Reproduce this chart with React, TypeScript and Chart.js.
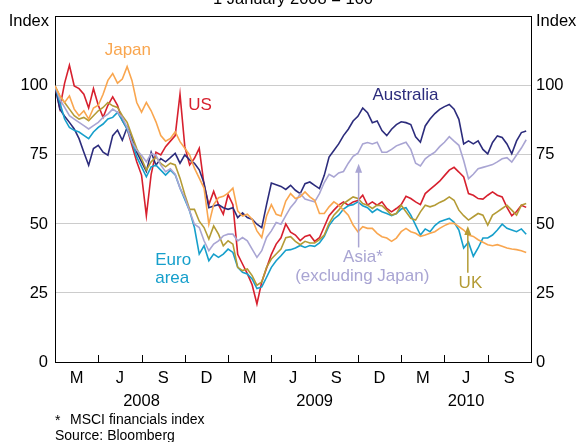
import React, { useEffect, useRef } from 'react';
import { Chart, registerables } from 'chart.js';

Chart.register(...registerables);

// Sample positions: months since 1 January 2008, one sample roughly every 10 days
const SAMPLE_COUNT = 99;
const months: number[] = Array.from({ length: SAMPLE_COUNT }, (_, i) => i / 3);

// Axis ticks
const quarterTicks = [1.5, 4.5, 7.5, 10.5, 13.5, 16.5, 19.5, 22.5, 25.5, 28.5, 31.5];
const quarterLabels = ['M', 'J', 'S', 'D', 'M', 'J', 'S', 'D', 'M', 'J', 'S'];
const quarterBoundaries = [3, 6, 9, 12, 15, 18, 21, 24, 27, 30];
const yearTicks = [6, 18, 28.5];
const yearLabels = ['2008', '2009', '2010'];
const yTickValues = [0, 25, 50, 75, 100, 125];

// Series (index, 1 January 2008 = 100)
const japan = [
  100, 96.4, 94, 96.4, 91.6, 89.2, 91, 88, 92, 93,
  97, 102, 104.5, 101, 102.5, 107, 102, 94, 90.5, 94,
  91, 87, 82, 80, 81, 83.4, 79.8, 77.4, 75, 70.2,
  66.6, 63, 49.9, 57, 59.5, 60, 61.2, 63, 54.7, 52.9,
  53.5, 51.7, 47.5, 45.1, 52.9, 57, 53.5, 52.9, 58.3, 61,
  59.2, 59.8, 61.6, 59.8, 58.6, 53.8, 53.8, 56.2, 58, 56.8,
  55, 53.2, 49.6, 47.2, 49, 48.4, 48.4, 46.6, 45.4, 44.9,
  43.7, 44.9, 47.2, 48.4, 47.2, 46.6, 45.5, 46, 46.6, 47.2,
  48.4, 49.4, 50.2, 50.2, 49, 47.8, 46, 45.5, 44.3, 43.4,
  42.5, 42.1, 42.5, 41.9, 41.3, 40.9, 40.7, 40.3, 39.7,
];

const asia = [
  100, 95.2, 92.2, 89.2, 88, 86.8, 85.6, 84.4, 85.6, 86.8,
  88.6, 89.8, 91.6, 90.4, 88.6, 85, 79.7, 76.7, 74.9, 72.5,
  75.5, 74.9, 71.3, 68.9, 70, 68, 63, 59.5, 54.7, 49.9,
  48.7, 43.9, 40.3, 42.7, 43.9, 45.7, 46.3, 46.3, 43.9, 45.1,
  43.9, 40.9, 37.9, 40.3, 45.1, 47.5, 50.5, 49.9, 53, 56,
  58, 61, 59, 58.5, 58, 61, 65, 68, 67, 68.5,
  69, 72, 74.5, 75.6, 79, 79.5, 79, 79.6, 76, 76,
  77, 78.3, 79, 79.6, 77, 72, 71, 73.6, 74.9, 76,
  78, 79.6, 81.6, 80, 78.5, 73, 66.4, 68, 70, 70.5,
  71, 71.5, 72.5, 73.6, 74, 72.4, 75, 77.5, 80.5,
];

const uk = [
  100, 96.4, 94, 91.6, 89.2, 88, 88.6, 87.4, 89.2, 91,
  92.2, 94, 92.8, 92.2, 89.2, 86.8, 82, 77.3, 73.7, 69.5,
  72.5, 74.3, 71.9, 70.7, 72, 71.4, 66.6, 60.6, 55.3, 55.3,
  51, 48.7, 44.5, 49.3, 46.3, 42.1, 43.9, 42.7, 34.3, 33.1,
  33.7, 31.3, 27.8, 29, 34.3, 37.3, 39.1, 40.9, 45, 45.4,
  43.7, 42.5, 43.7, 43.1, 43.1, 44.3, 46, 50.2, 53.2, 55,
  57.4, 58.6, 59.8, 59.2, 57.4, 56.8, 55.6, 56.8, 56.6, 55,
  53.2, 53.8, 56.8, 54.4, 52, 51.4, 54.4, 56.8, 56.2, 56.8,
  57.8, 58.6, 59.8, 58.6, 55, 53, 51.4, 52.6, 53.8, 53.2,
  49.6, 53.2, 54.4, 55.6, 56.8, 55, 53.2, 56.8, 57.4,
];

const euroArea = [
  100, 94, 88, 85, 83.9, 83.3, 82.1, 80.9, 83.3, 85,
  86.2, 88, 88.6, 90.4, 87.4, 84.4, 79.7, 74.3, 70.7, 67.1,
  70.7, 71.3, 69.5, 67.7, 69.5, 67.8, 63, 58.9, 54.7, 48.7,
  39.1, 42.1, 36.7, 39.1, 37.9, 39.1, 40.9, 39.7, 34.3, 32.5,
  31.9, 30.1, 26.6, 27.2, 30.7, 34.3, 36.7, 38.5, 40.5, 40.7,
  41.3, 42.2, 41.5, 42.2, 41.9, 43.1, 45.5, 49.4, 51.8, 53.2,
  55.4, 56.6, 57, 58, 56.6, 55.9, 54.2, 55.4, 54.4, 53.8,
  53, 53.8, 55.4, 55.9, 53.2, 49.6, 46, 48.2, 47.2, 49.4,
  50.8, 51.4, 52, 50.6, 47.8, 41.3, 43.4, 38.3, 41.3, 44.9,
  44.9, 46, 47.8, 49.9, 48.4, 47.8, 47.2, 48.2, 46.3,
];

const australia = [
  100, 91.6, 89, 86.8, 84.4, 80.9, 76, 71.3, 77.3, 78.5,
  76, 74.9, 82, 84, 80.3, 85, 80.9, 76, 72.5, 69,
  76, 71.3, 73.7, 72.5, 74, 75.6, 72, 75, 73.2, 72,
  69.6, 64.8, 55.9, 56.5, 57, 55.9, 55.3, 55.9, 52.3, 54,
  52.3, 51.7, 49.9, 48.7, 57, 64.8, 64.2, 63.6, 62.5, 64,
  62.2, 61, 64.6, 65.2, 64, 62.8, 67.6, 74.2, 76.6, 79,
  82, 84.3, 87.3, 89, 92, 90.3, 86.7, 87.3, 83.8, 82,
  84.3, 86, 87, 86.7, 86, 81.6, 79.6, 85.5, 88, 90,
  91.5, 92.5, 93.3, 91.6, 87.9, 79, 80.1, 79, 80.1, 77,
  75.4, 79.5, 81.9, 81.3, 79, 75.4, 80.1, 83.1, 83.7,
];

const us = [
  100, 92, 101, 107.5, 100, 99, 97, 92, 99, 93,
  88.6, 93, 96, 93, 87.5, 84.5, 78.5, 72.5, 67.7, 53,
  68, 76, 75, 78, 80, 82, 97, 78, 71.4, 73.8,
  77.4, 64.2, 57, 61.8, 57, 53.5, 60.6, 57, 39, 35.5,
  32, 28, 21, 29, 34, 39, 42.7, 45, 50, 47,
  46, 44, 45.5, 46, 43.7, 45, 49, 53, 55, 56.8,
  58, 56.8, 58, 58.5, 60.4, 56.8, 58, 56.8, 58, 55.6,
  54.4, 55.6, 57, 60, 59.2, 58, 57, 61, 62.5, 64,
  65.5, 67.5, 69.5, 70.5, 68.8, 67, 61, 60.4, 59.2, 59,
  60.4, 61.6, 60.4, 59.8, 56, 53, 54.5, 56.8, 56,
];

const seriesNames = ['Japan', 'Asia', 'UK', 'Euro area', 'Australia', 'US'];
const seriesValues = [japan, asia, uk, euroArea, australia, us];
const seriesColors = ['#f9a64f', '#a9a5d3', '#b49b35', '#169fcb', '#2c2c7c', '#d7202e'];

// Annotations (data coordinates: months, index)
const textLabels = [
  { text: 'Japan', x: 5.05, y: 112.8, color: '#f9a64f', align: 'center' },
  { text: 'US', x: 10.05, y: 92.8, color: '#d7202e', align: 'center' },
  { text: 'Australia', x: 24.3, y: 96.5, color: '#2c2c7c', align: 'center' },
  { text: 'Euro', x: 6.95, y: 36.8, color: '#169fcb', align: 'left' },
  { text: 'area', x: 6.95, y: 30.2, color: '#169fcb', align: 'left' },
  { text: 'Asia*', x: 21.35, y: 37.8, color: '#a9a5d3', align: 'center' },
  { text: '(excluding Japan)', x: 21.3, y: 31.2, color: '#a9a5d3', align: 'center' },
  { text: 'UK', x: 28.8, y: 28.5, color: '#b49b35', align: 'center' },
];
const arrows = [
  { x: 21.05, yFrom: 41.5, yTo: 71.8, color: '#a9a5d3' },
  { x: 28.62, yFrom: 32.3, yTo: 49.3, color: '#b49b35' },
];

const FONT = "'Liberation Sans', Arial, Helvetica, sans-serif";

const overlayPlugin = {
  id: 'overlay',
  afterDatasetsDraw(chart: any) {
    const { ctx, chartArea, scales } = chart;
    const xs = scales.x;
    const ys = scales.y;
    ctx.save();
    // quarter tick marks on the bottom axis
    ctx.strokeStyle = '#000';
    ctx.lineWidth = 1;
    quarterBoundaries.forEach((m) => {
      const px = Math.round(xs.getPixelForValue(m)) + 0.5;
      ctx.beginPath();
      ctx.moveTo(px, chartArea.bottom);
      ctx.lineTo(px, chartArea.bottom - 7);
      ctx.stroke();
    });
    // arrows
    arrows.forEach((a) => {
      const px = xs.getPixelForValue(a.x);
      const y0 = ys.getPixelForValue(a.yFrom);
      const y1 = ys.getPixelForValue(a.yTo);
      ctx.strokeStyle = a.color;
      ctx.fillStyle = a.color;
      ctx.lineWidth = 1.5;
      ctx.beginPath();
      ctx.moveTo(px, y0);
      ctx.lineTo(px, y1 + 6);
      ctx.stroke();
      ctx.beginPath();
      ctx.moveTo(px, y1);
      ctx.lineTo(px - 3.5, y1 + 9);
      ctx.lineTo(px + 3.5, y1 + 9);
      ctx.closePath();
      ctx.fill();
    });
    // series labels
    ctx.font = `17px ${FONT}`;
    ctx.textBaseline = 'middle';
    textLabels.forEach((t) => {
      ctx.fillStyle = t.color;
      ctx.textAlign = t.align as CanvasTextAlign;
      ctx.fillText(t.text, xs.getPixelForValue(t.x), ys.getPixelForValue(t.y));
    });
    ctx.restore();
  },
  afterDraw(chart: any) {
    const { ctx, chartArea } = chart;
    ctx.save();
    ctx.fillStyle = '#000';
    // title (cut off at the top, as in the original)
    ctx.font = `16.5px ${FONT}`;
    ctx.textAlign = 'center';
    ctx.textBaseline = 'alphabetic';
    ctx.fillText('1 January 2008 = 100', (chartArea.left + chartArea.right) / 2, 3.5);
    // axis unit labels
    ctx.textBaseline = 'middle';
    ctx.textAlign = 'right';
    ctx.fillText('Index', chartArea.left - 6, 21);
    ctx.textAlign = 'left';
    ctx.fillText('Index', chartArea.right + 5, 21);
    // footnotes
    ctx.font = `14px ${FONT}`;
    ctx.textAlign = 'left';
    ctx.fillText('*', chartArea.left, 421);
    ctx.fillText('MSCI financials index', chartArea.left + 15, 420);
    ctx.fillText('Source: Bloomberg', chartArea.left, 436);
    ctx.restore();
  },
};

export default function App() {
  const canvasRef = useRef<HTMLCanvasElement | null>(null);

  useEffect(() => {
    document.body.style.margin = '0';
    const canvas = canvasRef.current;
    if (!canvas) return;
    const tickFont = { family: FONT, size: 16.5 };
    const chart = new Chart(canvas, {
      type: 'line',
      data: {
        datasets: seriesNames.map((name, si) => ({
          label: name,
          data: seriesValues[si].map((v, i) => ({ x: months[i], y: v })),
          borderColor: seriesColors[si],
          backgroundColor: seriesColors[si],
          borderWidth: 1.6,
          pointRadius: 0,
          fill: false,
          tension: 0,
        })),
      },
      options: {
        responsive: false,
        animation: false,
        devicePixelRatio: 1,
        layout: { padding: { top: 13, left: 0, right: 0, bottom: 0 } },
        plugins: {
          legend: { display: false },
          tooltip: { enabled: false },
          title: { display: false },
        },
        scales: {
          x: {
            type: 'linear',
            position: 'bottom',
            min: 0,
            max: 33,
            grid: { display: false, drawTicks: false },
            border: { display: true, color: '#000', width: 1 },
            ticks: {
              autoSkip: false,
              maxRotation: 0,
              padding: 7,
              color: '#000',
              font: tickFont,
              callback: (_v: any, i: number) => quarterLabels[i] ?? '',
            },
            afterBuildTicks: (s: any) => {
              s.ticks = quarterTicks.map((v) => ({ value: v }));
            },
            afterFit: (s: any) => {
              s.height = 26;
            },
          },
          x2: {
            type: 'linear',
            position: 'bottom',
            min: 0,
            max: 33,
            grid: { display: false, drawTicks: false },
            border: { display: false },
            ticks: {
              autoSkip: false,
              maxRotation: 0,
              padding: 4,
              color: '#000',
              font: tickFont,
              callback: (_v: any, i: number) => yearLabels[i] ?? '',
            },
            afterBuildTicks: (s: any) => {
              s.ticks = yearTicks.map((v) => ({ value: v }));
            },
            afterFit: (s: any) => {
              s.height = 54;
            },
          },
          y: {
            type: 'linear',
            position: 'left',
            min: 0,
            max: 125,
            grid: {
              drawTicks: false,
              lineWidth: 1,
              color: (ctx: any) =>
                ctx.tick && (ctx.tick.value === 0 || ctx.tick.value === 125) ? '#000' : '#cccccc',
            },
            border: { display: true, color: '#000', width: 1 },
            ticks: {
              padding: 7,
              color: '#000',
              font: tickFont,
              callback: (v: any) => (v === 125 ? '' : String(v)),
            },
            afterBuildTicks: (s: any) => {
              s.ticks = yTickValues.map((v) => ({ value: v }));
            },
            afterFit: (s: any) => {
              s.width = 55;
            },
          },
          y2: {
            type: 'linear',
            position: 'right',
            min: 0,
            max: 125,
            grid: { display: false, drawTicks: false },
            border: { display: true, color: '#000', width: 1 },
            ticks: {
              padding: 5,
              color: '#000',
              font: tickFont,
              callback: (v: any) => (v === 125 ? '' : String(v)),
            },
            afterBuildTicks: (s: any) => {
              s.ticks = yTickValues.map((v) => ({ value: v }));
            },
            afterFit: (s: any) => {
              s.width = 48;
            },
          },
        },
      } as any,
      plugins: [overlayPlugin],
    });
    return () => chart.destroy();
  }, []);

  return (
    <div style={{ position: 'absolute', left: 0, top: 0, width: 579, height: 442 }}>
      <canvas ref={canvasRef} width={579} height={442} style={{ width: 579, height: 442 }} />
    </div>
  );
}
